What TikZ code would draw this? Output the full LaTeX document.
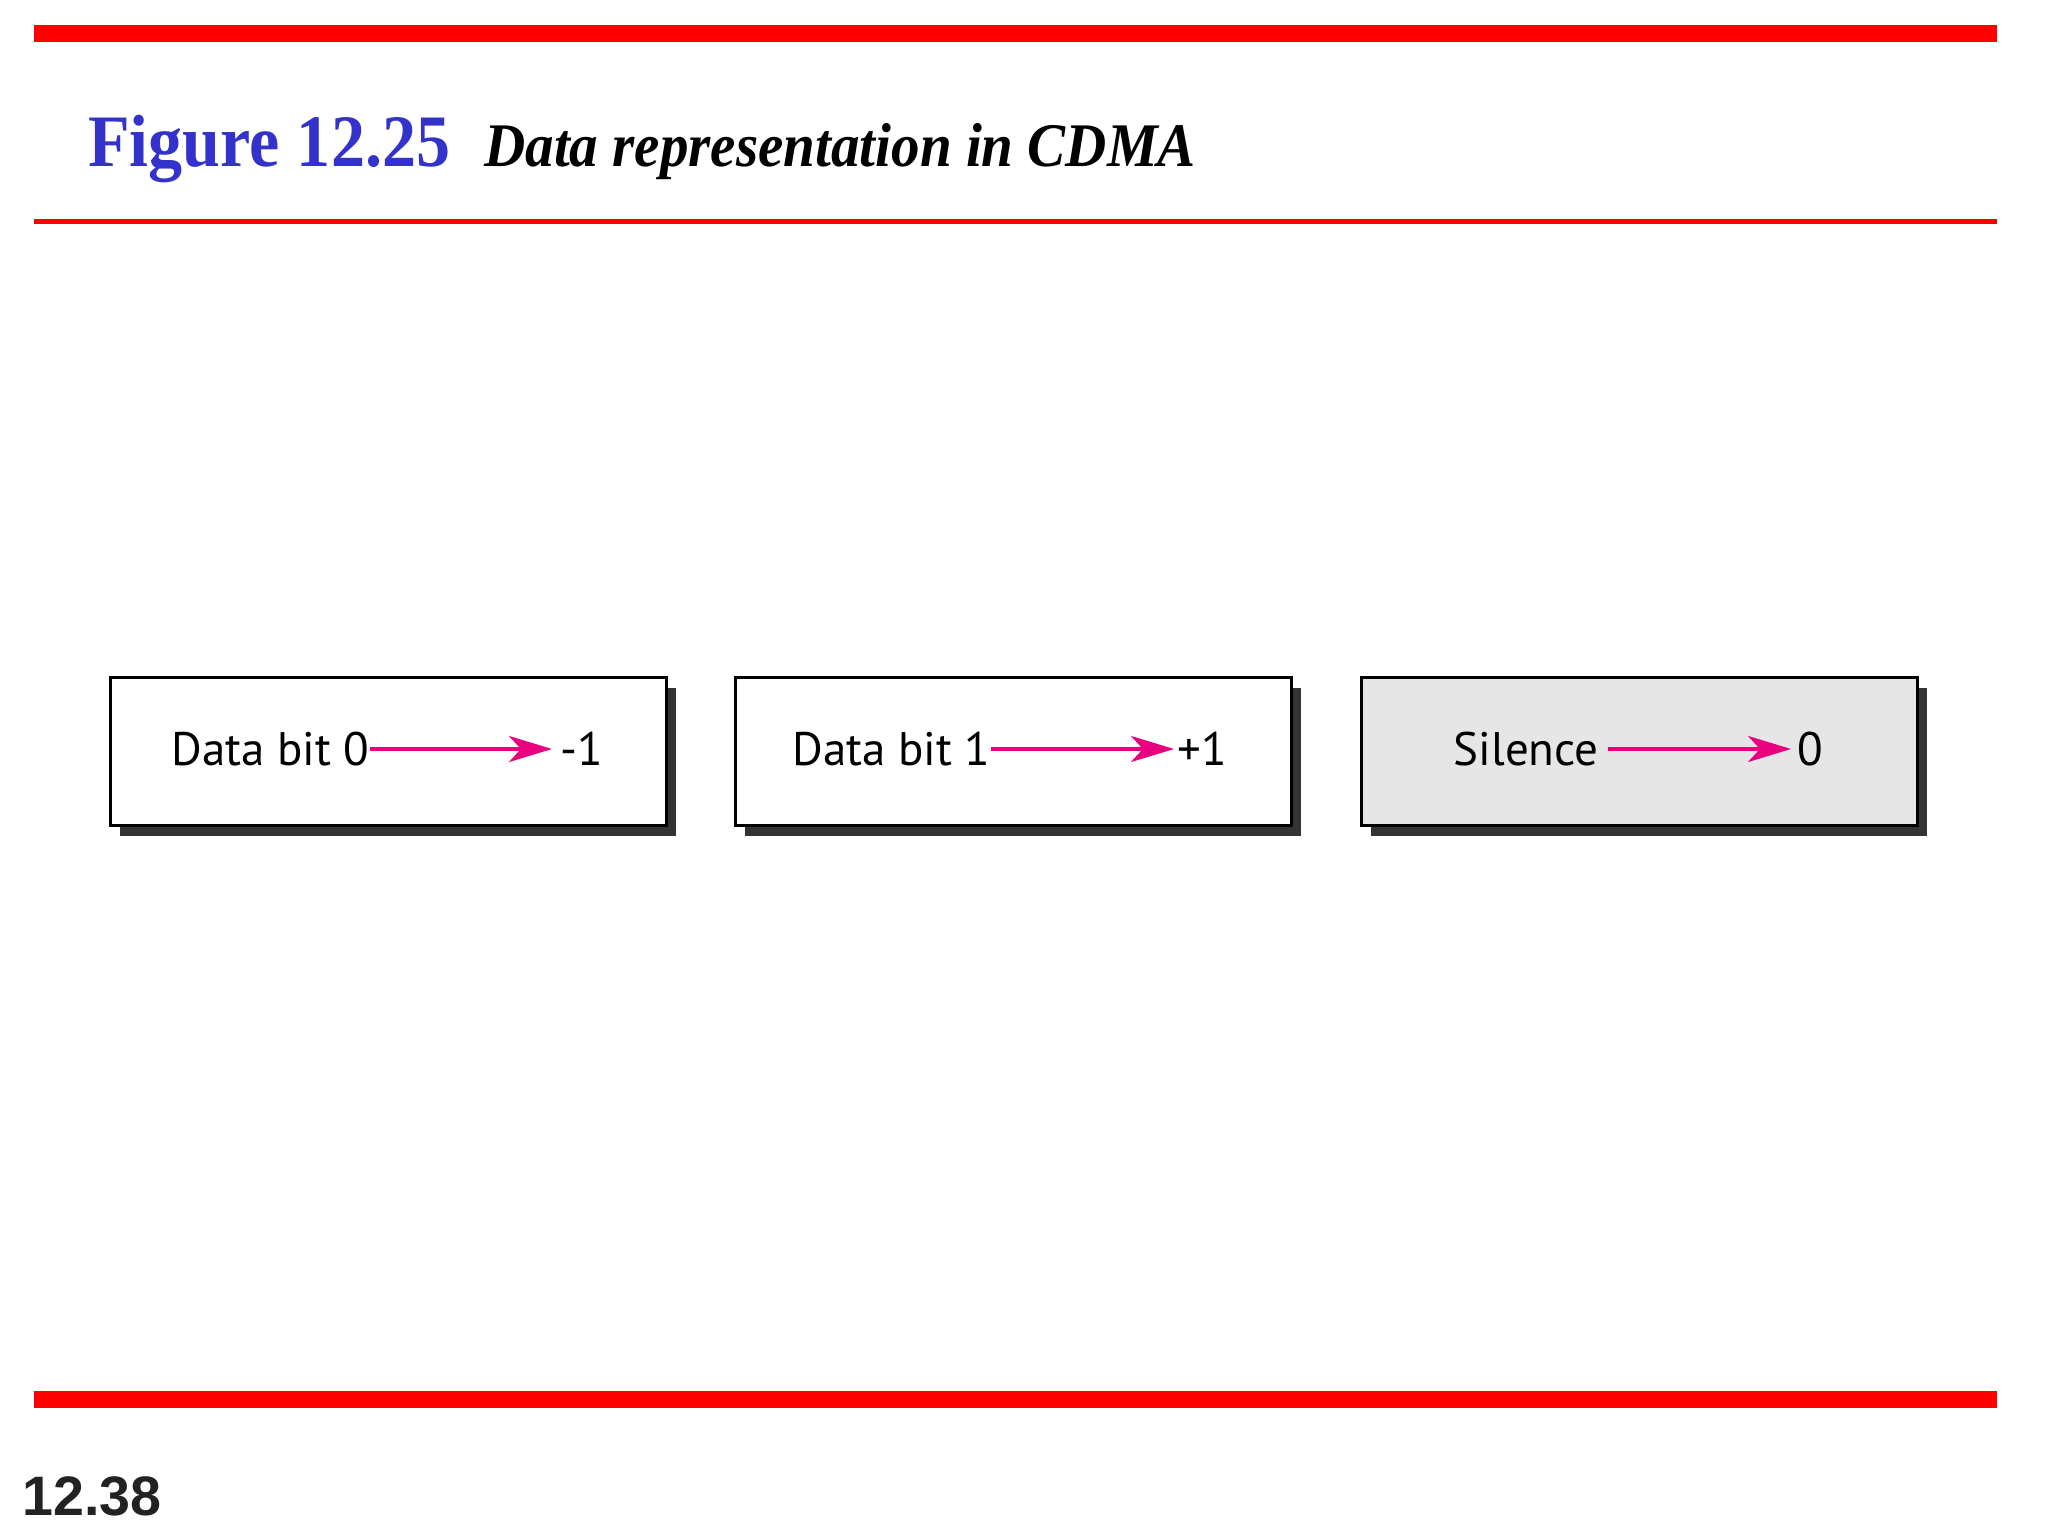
\documentclass[tikz,border=0pt]{standalone}
\usepackage{fontspec}
\usepackage{xcolor}
\usetikzlibrary{arrows.meta,shadows,positioning}
\newfontfamily\titlefont[FakeStretch=0.92]{Liberation Serif}
\newfontfamily\boxfont{PT Sans}
\newfontfamily\pagefont{Liberation Sans}
\definecolor{barred}{RGB}{255,0,0}
\definecolor{figblue}{RGB}{51,51,204}
\definecolor{arrowpink}{RGB}{233,0,127}
\definecolor{silgray}{RGB}{230,230,230}
\definecolor{shadowgray}{RGB}{51,51,51}
\definecolor{pagegray}{RGB}{34,34,34}

\begin{document}
\begin{tikzpicture}[x=0.5pt,y=-0.5pt,
    bitbox/.style={draw=black,line width=1.5pt,fill=white,minimum width=278pt,minimum height=74pt,
      drop shadow={shadow xshift=4.5pt,shadow yshift=-5pt,fill=shadowgray,opacity=1}},
    lbl/.style={font=\boxfont\fontsize{23.5pt}{28pt}\selectfont,inner sep=0pt,text height=16.5pt,text depth=0pt},
    arr/.style={-{Stealth[length=21.5pt,width=13pt,inset=6pt]},line width=2pt,draw=arrowpink}]
  \fill[white] (0,0) rectangle (2048,1536);
  \useasboundingbox (0,0) rectangle (2048,1536);
  % red bars
  \fill[barred] (34,25) rectangle (1997,42);
  \fill[barred] (34,219) rectangle (1997,224);
  \fill[barred] (34,1391) rectangle (1997,1408);
  % title
  \node[anchor=base west,inner sep=0pt,text=figblue,font=\titlefont\bfseries\fontsize{37pt}{40pt}\selectfont] (fig) at (88,166) {Figure 12.25};
  \node[anchor=base west,inner sep=0pt,font=\titlefont\bfseries\itshape\fontsize{31pt}{34pt}\selectfont] (cap) at (484,166) {Data representation in CDMA};
  % the three boxes
  \node[bitbox] (b0) at (388.5,751.5) {};
  \node[bitbox] (b1) at (1013.5,751.5) {};
  \node[bitbox,fill=silgray] (b2) at (1639.5,751.5) {};
  % labels and arrows
  \node[lbl,anchor=east] (s0) at (370,749) {Data bit 0};
  \node[lbl,anchor=west,inner xsep=4pt] (v0) at (552,749) {-1};
  \draw[arr] (s0.east) -- (v0.west);
  \node[lbl,anchor=east] (s1) at (991,749) {Data bit 1};
  \node[lbl,anchor=west,inner xsep=1.5pt] (v1) at (1174,749) {+1};
  \draw[arr] (s1.east) -- (v1.west);
  \node[lbl,anchor=east,inner xsep=4.5pt] (s2) at (1608,749) {Silence};
  \node[lbl,anchor=west,inner xsep=3pt] (v2) at (1791,749) {0};
  \draw[arr] (s2.east) -- (v2.west);
  % page number
  \node[anchor=base west,inner sep=0pt,text=pagegray,font=\pagefont\bfseries\fontsize{27.8pt}{31pt}\selectfont] (pg) at (22,1515) {12.38};
\end{tikzpicture}
\end{document}
